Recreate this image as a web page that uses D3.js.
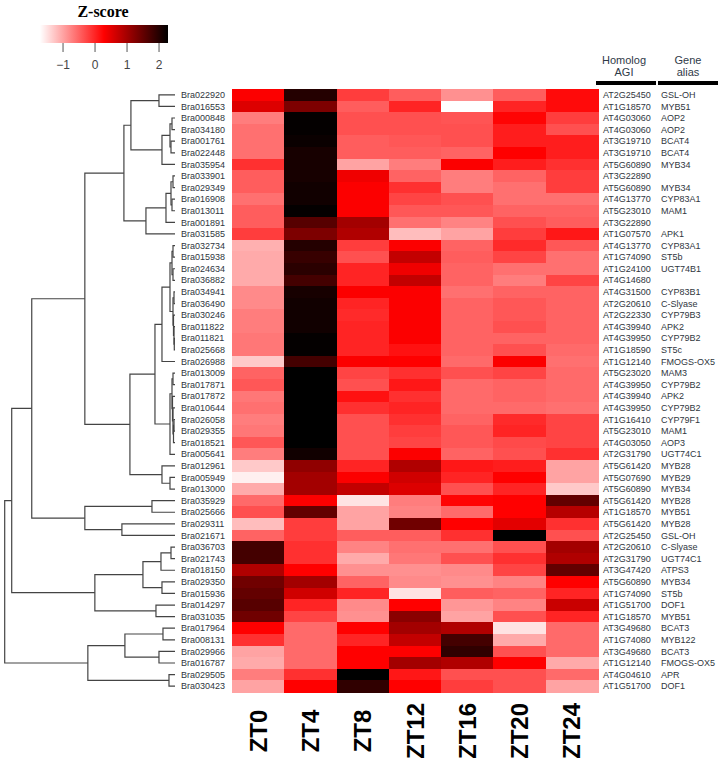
<!DOCTYPE html>
<html><head><meta charset="utf-8">
<script src="https://cdn.jsdelivr.net/npm/d3@7/dist/d3.min.js"></script>
<style>body{margin:0;background:#fff}svg{display:block}</style>
</head><body>
<svg id="c" width="724" height="758"></svg>
<script>
const timepoints = ["ZT0","ZT4","ZT8","ZT12","ZT16","ZT20","ZT24"];
const genes = ["Bra022920","Bra016553","Bra000848","Bra034180","Bra001761","Bra022448","Bra035954","Bra033901","Bra029349","Bra016908","Bra013011","Bra001891","Bra031585","Bra032734","Bra015938","Bra024634","Bra036882","Bra034941","Bra036490","Bra030246","Bra011822","Bra011821","Bra025668","Bra026988","Bra013009","Bra017871","Bra017872","Bra010644","Bra026058","Bra029355","Bra018521","Bra005641","Bra012961","Bra005949","Bra013000","Bra035929","Bra025666","Bra029311","Bra021671","Bra036703","Bra021743","Bra018150","Bra029350","Bra015936","Bra014297","Bra031035","Bra017964","Bra008131","Bra029966","Bra016787","Bra029505","Bra030423"];
const homologAGI = ["AT2G25450","AT1G18570","AT4G03060","AT4G03060","AT3G19710","AT3G19710","AT5G60890","AT3G22890","AT5G60890","AT4G13770","AT5G23010","AT3G22890","AT1G07570","AT4G13770","AT1G74090","AT1G24100","AT4G14680","AT4G31500","AT2G20610","AT2G22330","AT4G39940","AT4G39950","AT1G18590","AT1G12140","AT5G23020","AT4G39950","AT4G39940","AT4G39950","AT1G16410","AT5G23010","AT4G03050","AT2G31790","AT5G61420","AT5G07690","AT5G60890","AT5G61420","AT1G18570","AT5G61420","AT2G25450","AT2G20610","AT2G31790","AT3G47420","AT5G60890","AT1G74090","AT1G51700","AT1G18570","AT3G49680","AT1G74080","AT3G49680","AT1G12140","AT4G04610","AT1G51700"];
const geneAlias = ["GSL-OH","MYB51","AOP2","AOP2","BCAT4","BCAT4","MYB34","","MYB34","CYP83A1","MAM1","","APK1","CYP83A1","ST5b","UGT74B1","","CYP83B1","C-Slyase","CYP79B3","APK2","CYP79B2","ST5c","FMOGS-OX5","MAM3","CYP79B2","APK2","CYP79B2","CYP79F1","MAM1","AOP3","UGT74C1","MYB28","MYB29","MYB34","MYB28","MYB51","MYB28","GSL-OH","C-Slyase","UGT74C1","ATPS3","MYB34","ST5b","DOF1","MYB51","BCAT3","MYB122","BCAT3","FMOGS-OX5","APR","DOF1"];
// z-scores, one row per gene, columns ZT0..ZT24
const zscores = [
[0.3,2.0,-0.2,-0.45,-0.85,-0.45,0.2],
[0.55,1.3,-0.45,0,-1.72,0,0.2],
[-0.7,2.25,-0.35,-0.35,-0.38,0.25,-0.2],
[-0.6,2.25,-0.35,-0.35,-0.35,0.05,-0.35],
[-0.6,2.2,-0.45,-0.4,-0.35,0.05,0.05],
[-0.6,2.1,-0.45,-0.45,-0.5,0.28,0.05],
[-0.1,2.1,-1.0,-0.7,0.3,0.05,-0.1],
[-0.45,2.1,0.4,-0.5,-0.7,-0.5,-0.2],
[-0.45,2.15,0.3,-0.1,-0.7,-0.6,-0.2],
[-0.6,2.15,0.3,-0.25,-0.35,-0.6,-0.6],
[-0.45,2.25,0.3,-0.4,-0.4,-0.5,-0.5],
[-0.45,1.6,1.0,-0.6,-0.75,-0.35,-0.45],
[-0.2,1.3,0.9,-1.2,-1.0,-0.2,0.1],
[-1.1,2.0,-0.2,0.3,-0.5,-0.05,-0.4],
[-1.05,1.85,-0.35,0.75,-0.45,-0.25,-0.6],
[-1.05,1.95,0,0.4,-0.5,-0.6,-0.6],
[-1.05,1.75,0,0.75,-0.5,-0.7,-0.25],
[-0.8,2.1,0.3,0.3,-0.6,-0.5,-0.5],
[-0.8,2.15,0,0.3,-0.5,-0.4,-0.5],
[-0.7,2.15,-0.05,0.3,-0.5,-0.4,-0.5],
[-0.7,2.15,0,0.3,-0.5,-0.35,-0.5],
[-0.65,2.25,0,0.3,-0.5,-0.5,-0.5],
[-0.65,2.25,0,0.15,-0.5,-0.35,-0.55],
[-1.3,1.75,0.3,0.28,-0.55,0.3,-0.6],
[-0.5,2.28,-0.25,-0.1,-0.35,-0.25,-0.55],
[-0.4,2.28,-0.35,0.1,-0.55,-0.5,-0.55],
[-0.65,2.28,0.15,-0.1,-0.55,-0.5,-0.55],
[-0.6,2.28,-0.1,0,-0.55,-0.55,-0.6],
[-0.7,2.28,-0.35,-0.1,-0.5,-0.05,-0.25],
[-0.65,2.28,-0.35,-0.2,-0.4,0,-0.25],
[-0.4,2.28,-0.35,-0.25,-0.4,-0.3,-0.25],
[-0.7,2.15,-0.35,0.3,-0.5,-0.35,-0.1],
[-1.3,1.15,0,0.9,0.1,0.05,-1.0],
[-1.6,1.0,0.3,0.65,0,0.28,-1.0],
[-1.05,1.0,0.75,0.55,-0.35,0,-1.3],
[-0.55,0.3,-1.5,-0.7,0.25,0.28,1.5],
[-0.35,1.5,-1.0,-0.75,-0.55,0.28,0.85],
[-1.2,-0.2,-1.0,1.4,0.28,0.5,-0.1],
[-0.5,-0.2,-0.45,-0.45,-0.1,2.28,-0.35],
[1.75,-0.1,-0.75,-0.6,-0.6,-0.35,1.0],
[1.75,-0.1,-1.05,-0.65,-0.35,-0.1,0.9],
[0.9,0.28,-0.85,-0.85,-0.8,-0.25,1.5],
[1.4,1.0,-0.5,-0.8,-0.85,-0.75,0.28],
[1.5,0.65,0,-1.5,-0.45,-0.5,0],
[1.6,0,-0.8,0.28,-0.9,-0.75,0.7],
[1.4,-0.25,-0.85,1.2,-1.0,-0.35,0],
[0.28,-0.55,0.28,1.0,0.9,-1.5,-0.55],
[-0.1,-0.55,0,0.75,1.75,-1.05,-0.55],
[-1.0,-0.55,0.28,0.28,1.9,-0.35,-0.55],
[-1.05,-0.55,0.28,1.0,0.9,0.28,-1.05],
[-0.7,-0.1,2.28,0.1,-0.35,-0.35,-0.55],
[-1.0,0.28,1.9,0.28,-0.2,-0.35,-1.0]
];
// dendrogram: [height, left, right]; numbers are leaf (row) indices
const dendrogram =
[170,
  [163,
    [143,
      [90,
        [51,
          [44, [16,0,1], [13,[5,[3,2,3],[4,4,5]],6]],
          [29, [9,[4,[2,7,8],[3,9,10]],11], 12]
        ],
        [45,
          [20,
            [13,[5,[3,[2,13,14],[2,15,16]],[2,[1,17,18],[1.5,19,[1,20,[0.7,21,22]]]]],23],
            [5,[3,[2,24,25],[2.5,26,[2,27,[1.5,[1,28,29],30]]]],31]
          ],
          [13,32,[5,33,34]]
        ]
      ],
      [90,[23,35,36],[53,37,38]]
    ],
    [80,
      [32,[14,[4,39,40],41],[13,42,43]],
      [19,44,45]
    ]
  ],
  [87,[50,[12,46,47],[16,48,49]],[6,50,51]]
];
const legendTicks = [-1,0,1,2];

const svg = d3.select("#c");
const color = d3.scaleLinear().domain([-1.72,0.28,2.28]).range(["#ffffff","#ff0000","#000000"]).clamp(true);
const x = d3.scaleBand().domain(timepoints).range([232,598]);
const y = d3.scaleBand().domain(d3.range(genes.length)).range([89,692]);
const xd = d3.scaleLinear().domain([0,170]).range([175,4.7]);

// heatmap cells
const cells = [];
zscores.forEach((row,i)=>row.forEach((v,j)=>cells.push({i,j,v})));
svg.append("g").attr("shape-rendering","crispEdges").selectAll("rect").data(cells).join("rect")
  .attr("x",d=>x(timepoints[d.j])).attr("y",d=>y(d.i))
  .attr("width",x.bandwidth()+0.5).attr("height",y.bandwidth()+0.5)
  .attr("fill",d=>color(d.v));

// row labels
const lab = "#2f3640";
svg.append("g").selectAll("text").data(genes).join("text")
  .attr("x",181).attr("y",(d,i)=>y(i)+y.bandwidth()/2).attr("dy","0.35em")
  .attr("font-family","Liberation Sans, Arial, sans-serif").attr("font-size",9).attr("fill",lab).text(d=>d);
svg.append("g").selectAll("text").data(homologAGI).join("text")
  .attr("x",603).attr("y",(d,i)=>y(i)+y.bandwidth()/2).attr("dy","0.35em")
  .attr("font-family","Liberation Sans, Arial, sans-serif").attr("font-size",9).attr("fill",lab).text(d=>d);
svg.append("g").selectAll("text").data(geneAlias).join("text")
  .attr("x",661).attr("y",(d,i)=>y(i)+y.bandwidth()/2).attr("dy","0.35em")
  .attr("font-family","Liberation Sans, Arial, sans-serif").attr("font-size",9).attr("fill",lab).text(d=>d);

// column labels
svg.append("g").selectAll("text").data(timepoints).join("text")
  .attr("transform",d=>`translate(${x(d)+x.bandwidth()/2},731) rotate(-90)`)
  .attr("text-anchor","middle").attr("dy","0.36em")
  .attr("font-family","Liberation Sans, Arial, sans-serif").attr("font-weight","bold").attr("font-size",24).attr("fill","#000").text(d=>d);

// header
const hdr = svg.append("g").attr("font-family","Liberation Sans, Arial, sans-serif").attr("font-size",11).attr("fill","#2f3a48").attr("text-anchor","middle");
hdr.append("text").attr("x",624).attr("y",64).text("Homolog");
hdr.append("text").attr("x",624).attr("y",76).text("AGI");
hdr.append("text").attr("x",688).attr("y",64).text("Gene");
hdr.append("text").attr("x",688).attr("y",76).text("alias");
svg.append("rect").attr("x",596).attr("y",81).attr("width",60).attr("height",4).attr("fill","#000");
svg.append("rect").attr("x",658).attr("y",81).attr("width",60).attr("height",4).attr("fill","#000");

// dendrogram
const dg = svg.append("g").attr("fill","none").attr("stroke","#444").attr("stroke-width",1.2);
function layout(n){
  if(!Array.isArray(n)) return {x:xd(0), y:y(n)+y.bandwidth()/2};
  const a = layout(n[1]), b = layout(n[2]);
  const nx = xd(n[0]), ny = (a.y+b.y)/2;
  dg.append("path").attr("d",`M${a.x},${a.y}H${nx}V${b.y}H${b.x}`);
  return {x:nx, y:ny};
}
layout(dendrogram);

// legend
const lx = d3.scaleLinear().domain([-1.72,2.28]).range([40,168]);
const defs = svg.append("defs");
const grad = defs.append("linearGradient").attr("id","zg");
[[0,"#ffffff"],[0.5,"#ff0000"],[1,"#000000"]].forEach(s=>grad.append("stop").attr("offset",s[0]).attr("stop-color",s[1]));
svg.append("rect").attr("x",40).attr("y",25).attr("width",128).attr("height",18).attr("fill","url(#zg)");
svg.append("text").attr("x",103).attr("y",17).attr("text-anchor","middle")
  .attr("font-family","Liberation Serif, Times New Roman, serif").attr("font-weight","bold").attr("font-size",16).text("Z-score");
const lg = svg.append("g");
lg.selectAll("line").data(legendTicks).join("line")
  .attr("x1",d=>lx(d)).attr("x2",d=>lx(d)).attr("y1",43).attr("y2",52).attr("stroke","#555").attr("stroke-width",1);
lg.selectAll("text").data(legendTicks).join("text")
  .attr("x",d=>lx(d)).attr("y",69).attr("text-anchor","middle")
  .attr("font-family","Liberation Sans, Arial, sans-serif").attr("font-size",12).attr("fill","#444")
  .text(d=>d<0?"\u2212"+Math.abs(d):d);
</script>
</body></html>
